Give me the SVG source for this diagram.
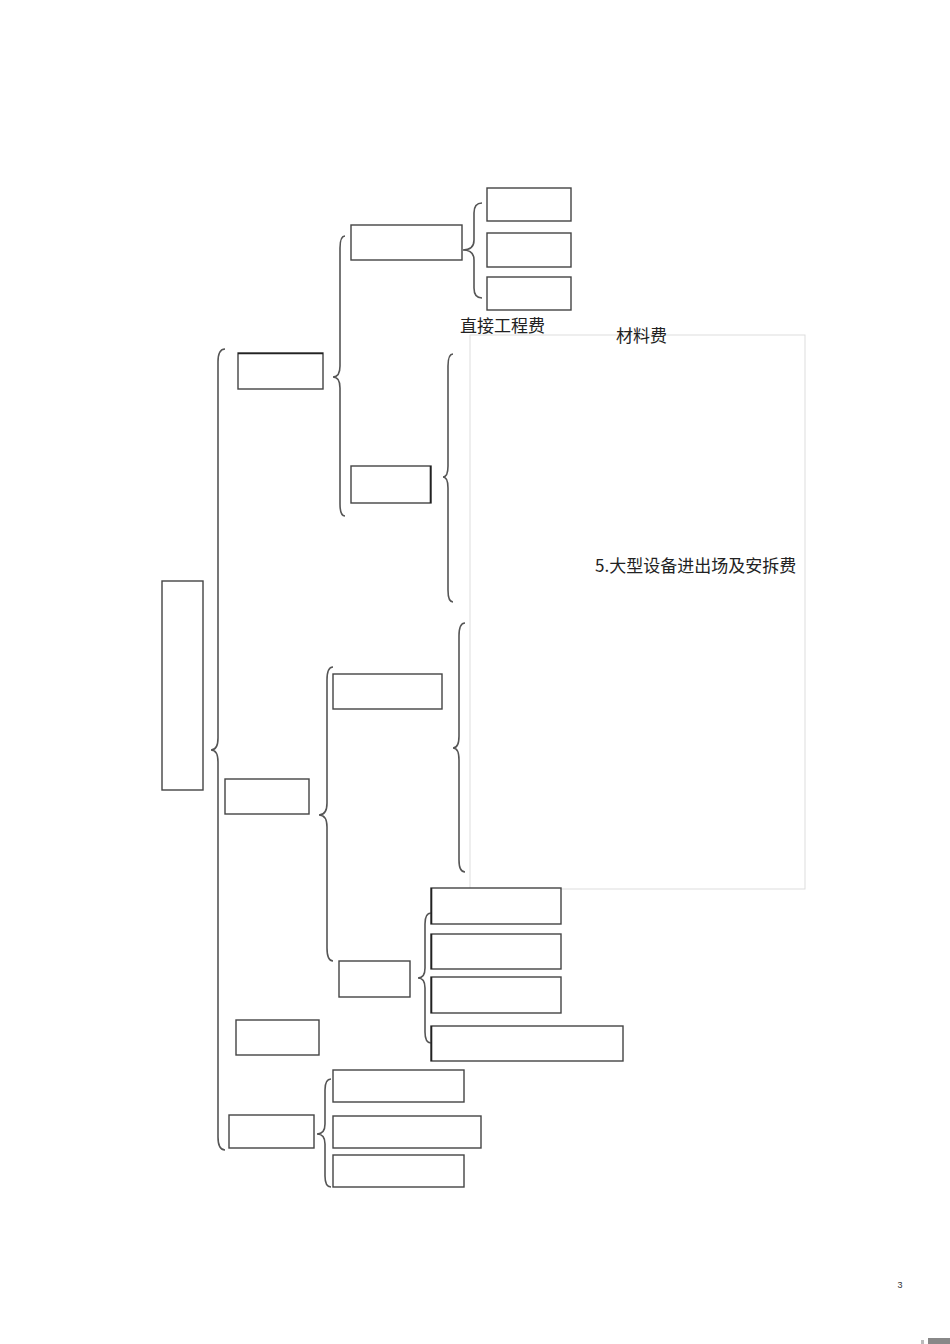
<svg xmlns="http://www.w3.org/2000/svg" width="950" height="1344" viewBox="0 0 950 1344">
<style>
.box{fill:#fff;stroke:#444;stroke-width:1.4}
.br{fill:none;stroke:#555;stroke-width:1.6}
.t{font-family:"Noto Sans CJK SC","Noto Sans",sans-serif;font-size:17px;fill:#222}
</style>
<rect width="950" height="1344" fill="#fff"/>
<rect x="470" y="335" width="335" height="554" fill="none" stroke="#ddd" stroke-width="1"/>
<g id="connectors">
<path class="br" d="M225,349 Q218,349 218,362 L218,738 Q218,750 211,750 Q218,750 218,762 L218,1137 Q218,1150 225,1150"/>
<path class="br" d="M345,236 Q340,236 340,248 L340,366 Q340,377 333,377 Q340,377 340,388 L340,504 Q340,516 345,516"/>
<path class="br" d="M482,203 Q474,203 474,213 L474,240 Q474,250 463,250 Q474,250 474,260 L474,288 Q474,298 482,298"/>
<path class="br" d="M453,354 Q448,354 448,366 L448,466 Q448,477 443,477 Q448,477 448,488 L448,590 Q448,602 453,602"/>
<path class="br" d="M333,667 Q327,667 327,680 L327,803 Q327,815 319,815 Q327,815 327,827 L327,948 Q327,961 333,961"/>
<path class="br" d="M465,623 Q459,623 459,636 L459,736 Q459,748 453,748 Q459,748 459,760 L459,860 Q459,872 465,872"/>
<path class="br" d="M431,913 Q425,913 425,924 L425,968 Q425,978 418,978 Q425,978 425,988 L425,1032 Q425,1043 431,1043"/>
<path class="br" d="M331,1079 Q325,1079 325,1090 L325,1124 Q325,1134 317,1134 Q325,1134 325,1144 L325,1176 Q325,1187 331,1187"/>
</g>
<g id="root"><rect class="box" x="162" y="581" width="41" height="209"/></g>
<g id="n1a"><rect class="box" x="238" y="353" width="85" height="36"/><line x1="238" y1="353.5" x2="323" y2="353.5" stroke="#222" stroke-width="1.6"/></g>
<g id="n1b"><rect class="box" x="225" y="779" width="84" height="35"/></g>
<g id="n1c"><rect class="box" x="236" y="1020" width="83" height="35"/></g>
<g id="n1d"><rect class="box" x="229" y="1115" width="85" height="33"/></g>
<g id="n2a1"><rect class="box" x="351" y="225" width="111" height="35"/></g>
<g id="n2a2"><rect class="box" x="351" y="466" width="80" height="37"/><line x1="430.5" y1="466" x2="430.5" y2="503" stroke="#222" stroke-width="1.6"/></g>
<g id="n2b1"><rect class="box" x="333" y="674" width="109" height="35"/></g>
<g id="n2b2"><rect class="box" x="339" y="961" width="71" height="36"/></g>
<g id="leaf1"><rect class="box" x="487" y="188" width="84" height="33"/></g>
<g id="leaf2"><rect class="box" x="487" y="233" width="84" height="34"/></g>
<g id="leaf3"><rect class="box" x="487" y="277" width="84" height="33"/></g>
<g id="b2c1"><rect class="box" x="431" y="888" width="130" height="36"/><line x1="431.5" y1="888" x2="431.5" y2="924" stroke="#222" stroke-width="1.6"/></g>
<g id="b2c2"><rect class="box" x="431" y="934" width="130" height="35"/><line x1="431.5" y1="934" x2="431.5" y2="969" stroke="#222" stroke-width="1.6"/></g>
<g id="b2c3"><rect class="box" x="431" y="977" width="130" height="36"/><line x1="431.5" y1="977" x2="431.5" y2="1013" stroke="#222" stroke-width="1.6"/></g>
<g id="b2c4"><rect class="box" x="431" y="1026" width="192" height="35"/><line x1="431.5" y1="1026" x2="431.5" y2="1061" stroke="#222" stroke-width="1.6"/></g>
<g id="dc1"><rect class="box" x="333" y="1070" width="131" height="32"/></g>
<g id="dc2"><rect class="box" x="333" y="1116" width="148" height="32"/></g>
<g id="dc3"><rect class="box" x="333" y="1155" width="131" height="32"/></g>
<g id="labels">
<text class="t" x="460" y="332">直接工程费</text>
<text class="t" x="616" y="342">材料费</text>
<text class="t" x="595" y="572">5.大型设备进出场及安拆费</text>
<text x="900" y="1288" font-family="Liberation Sans,sans-serif" font-size="9" fill="#333" text-anchor="middle">3</text>
</g>
<rect x="928" y="1338" width="22" height="6" fill="#888"/>
<rect x="921" y="1340" width="3" height="4" fill="#bbb"/>
</svg>
